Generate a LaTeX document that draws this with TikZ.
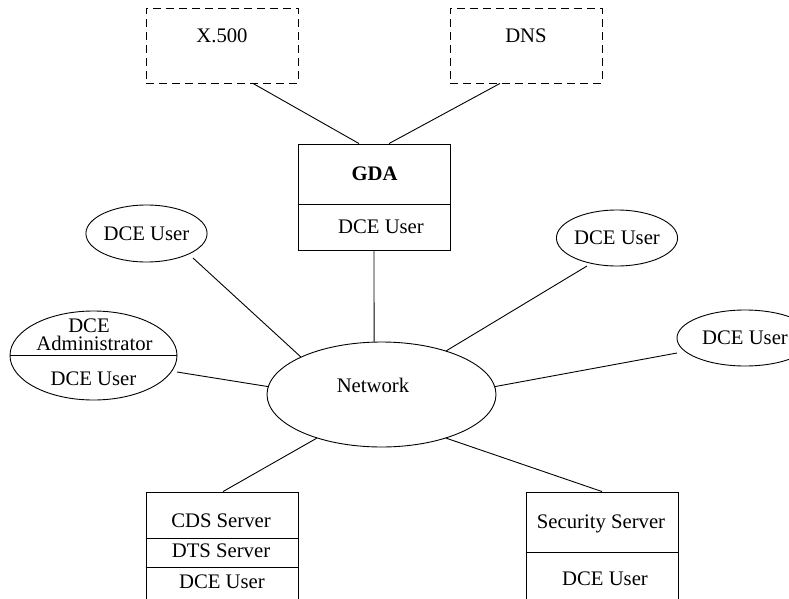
\documentclass[tikz,border=0pt]{standalone}
\usepackage{fontspec}
\setmainfont{Liberation Serif}
\usetikzlibrary{calc,shapes.geometric}
\begin{document}
\begin{tikzpicture}[x=1pt,y=-1pt,line width=0.9pt,
  every node/.style={font=\fontsize{20.7}{24}\selectfont},
  txt/.style={anchor=base,inner sep=0pt},
  box/.style={draw,rectangle,inner sep=0pt,minimum width=152pt},
  dbox/.style={box,dash pattern=on 8pt off 5pt},
  oval/.style={draw,ellipse,inner sep=0pt},
  link/.style={draw}]
\useasboundingbox (0,0) rectangle (789,599);
\clip (0,0) rectangle (789,599);

% top dashed boxes
\node[dbox,minimum height=75pt] (x500) at (222,45.5) {};
\node[txt] (x500t) at (222,43) {X.500};
\node[dbox,minimum height=75pt] (dns) at (526,45.5) {};
\node[txt] (dnst) at (526,43) {DNS};

% GDA
\node[box,minimum height=106pt] (gda) at (374,197) {};
\draw ($(gda.north west)+(0,61)$) -- ($(gda.north east)+(0,61)$);
\node[txt] (gdat) at (374.5,180) {\textbf{GDA}};
\node[txt] (gdau) at (381,233) {DCE User};

% users
\node[oval,minimum width=121pt,minimum height=57pt] (ulu) at (146.5,233.5) {DCE User};
\node[oval,minimum width=121pt,minimum height=56pt] (uru) at (617,238) {DCE User};
\node[oval,minimum width=136pt,minimum height=56pt] (rtu) at (745,338) {DCE User};

% administrator
\node[oval,minimum width=167pt,minimum height=89pt] (adm) at (93.5,355.5) {};
\draw (adm.west) -- (adm.east);
\node[txt] (admt1) at (89,332) {DCE};
\node[txt] (admt2) at (94.5,350) {Administrator};
\node[txt] (admt3) at (93.5,385) {DCE User};

% network
\node[oval,minimum width=229pt,minimum height=105pt] (net) at (381.5,394.5) {};
\node[txt] (nett) at (373,392) {Network};

% CDS box
\node[box,minimum height=148pt] (cds) at (222,566) {};
\draw ($(cds.north west)+(0,47)$) -- ($(cds.north east)+(0,47)$);
\draw ($(cds.north west)+(0,76)$) -- ($(cds.north east)+(0,76)$);
\node[txt] (cdst1) at (221,527) {CDS Server};
\node[txt] (cdst2) at (221,557) {DTS Server};
\node[txt] (cdst3) at (222,588) {DCE User};

% Security box
\node[box,minimum height=148pt] (sec) at (602,566) {};
\draw ($(sec.north west)+(0,61)$) -- ($(sec.north east)+(0,61)$);
\node[txt] (sect1) at (601,528) {Security Server};
\node[txt] (sect2) at (605,585) {DCE User};

% connectors
\draw[link] ($(x500.south)+(31,0)$) -- ($(gda.north)+(-15,0)$);
\draw[link] ($(dns.south)+(-26,0)$) -- ($(gda.north)+(15,0)$);
\draw[link] (gda.south) -- (net.98);
\draw[link] ($(ulu.center)+(46.5,24.5)$) -- (net.155.2);
\draw[link] ($(adm.center)+(83.5,16.5)$) -- (net.176.2);
\draw[link] ($(uru.center)+(-30,28)$) -- (net.34);
\draw[link] ($(rtu.center)+(-68,15)$) -- (net.4.3);
\draw[link] ($(cds.north)+(1,0)$) -- (net.214.2);
\draw[link] (sec.north) -- (net.326.4);
\end{tikzpicture}
\end{document}
